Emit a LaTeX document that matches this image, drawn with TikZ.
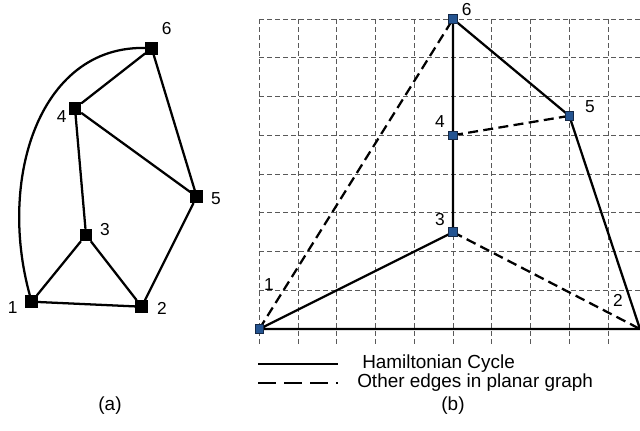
\documentclass[tikz,border=0pt]{standalone}
\usepackage{fontspec}
\setmainfont{Liberation Sans}

\begin{document}
\begin{tikzpicture}[
    x=0.75pt, y=-0.75pt,
    edge/.style={
        line width=1.7pt,
        line cap=round,
        line join=round
    },
    otheredge/.style={
        edge,
        line cap=butt,
        dash pattern=on 7.5pt off 4pt
    },
    gridline/.style={
        line width=0.7pt,
        draw=black!65,
        dash pattern=on 3.75pt off 2.25pt
    },
    vtxa/.style={rectangle,fill=black,minimum size=9.5pt,inner sep=0pt},
    vtxb/.style={rectangle,fill={rgb,255:red,36;green,84;blue,145},
        draw={rgb,255:red,20;green,40;blue,70},line width=0.5pt,
        minimum size=6.5pt,inner sep=0pt},
    lbl/.style={font=\fontsize{13}{15}\selectfont,inner sep=0pt},
    txt/.style={font=\fontsize{14.2}{16}\selectfont,inner sep=0pt}
]
\useasboundingbox (0,0) rectangle (640,430);

% ------------------------------------------------
% (a): planar graph
% ------------------------------------------------
\node[vtxa] (a1) at (31.7,301.7) {};
\node[vtxa] (a2) at (141.7,306.7) {};
\node[vtxa] (a3) at (86,235) {};
\node[vtxa] (a4) at (75,108.3) {};
\node[vtxa] (a5) at (196.7,196.7) {};
\node[vtxa] (a6) at (151.7,48.3) {};

\draw[edge] (a1) -- (a2) -- (a3) -- (a1);
\draw[edge] (a3) -- (a4) -- (a6) -- (a5) -- (a2);
\draw[edge] (a4) -- (a5);
\draw[edge] (a1.center) .. controls (-5,180) and (40,40) .. (a6.center);

\node[lbl] (la1) at (12.7,308) {1};
\node[lbl] (la2) at (162,308) {2};
\node[lbl] (la3) at (105,230) {3};
\node[lbl] (la4) at (61.7,116.7) {4};
\node[lbl] (la5) at (216,199) {5};
\node[lbl] (la6) at (166.7,29) {6};

\node[txt] (capa) at (110,406) {(a)};

% ------------------------------------------------
% (b): grid embedding
% ------------------------------------------------
\def\gx{259.3}
\def\gy{329}
\def\gs{38.75}

\foreach \j in {0,...,8}
    \draw[gridline] (\gx,\gy-\j*\gs) -- (640,\gy-\j*\gs);
\foreach \i in {0,...,9}
    \draw[gridline] (\gx+\i*\gs,\gy-8*\gs) -- (\gx+\i*\gs,\gy+17);

\coordinate (b1) at (\gx,\gy);
\coordinate (b2) at (640,\gy);
\coordinate (b3) at (\gx+5*\gs,\gy-2.5*\gs);
\coordinate (b4) at (\gx+5*\gs,\gy-5*\gs);
\coordinate (b5) at (\gx+8*\gs,\gy-5.5*\gs);
\coordinate (b6) at (\gx+5*\gs,\gy-8*\gs);

% other edges first, then the cycle on top
\draw[otheredge] (b1) -- (b6);
\draw[otheredge] (b4) -- (b5);
\draw[otheredge] (b3) -- (b2);

\draw[edge] (b1) -- (b2) -- (b5) -- (b6) -- (b4) -- (b3) -- cycle;

\foreach \P in {b1,b3,b4,b5,b6}
    \node[vtxb] (n\P) at (\P) {};

\node[lbl] (lb1) at (269,285) {1};
\node[lbl] (lb2) at (618,300) {2};
\node[lbl] (lb3) at (440,220) {3};
\node[lbl] (lb4) at (440,122) {4};
\node[lbl] (lb5) at (590,107) {5};
\node[lbl] (lb6) at (466.7,10) {6};

% ------------------------------------------------
% Legend
% ------------------------------------------------
\coordinate (hamL) at (258,364);
\coordinate (hamR) at (338,364);
\coordinate (othL) at (258,383);
\coordinate (othR) at (338,383);

\draw[edge,line cap=butt] (hamL) -- (hamR);
\draw[edge,line cap=butt,dash pattern=on 13.5pt off 6pt] (othL) -- (othR);

\node[txt,anchor=west] (hamtxt) at (362,364) {Hamiltonian Cycle};
\node[txt,anchor=west] (othtxt) at (357,383) {Other edges in planar graph};

\node[txt] (capb) at (453,406) {(b)};

\end{tikzpicture}
\end{document}
